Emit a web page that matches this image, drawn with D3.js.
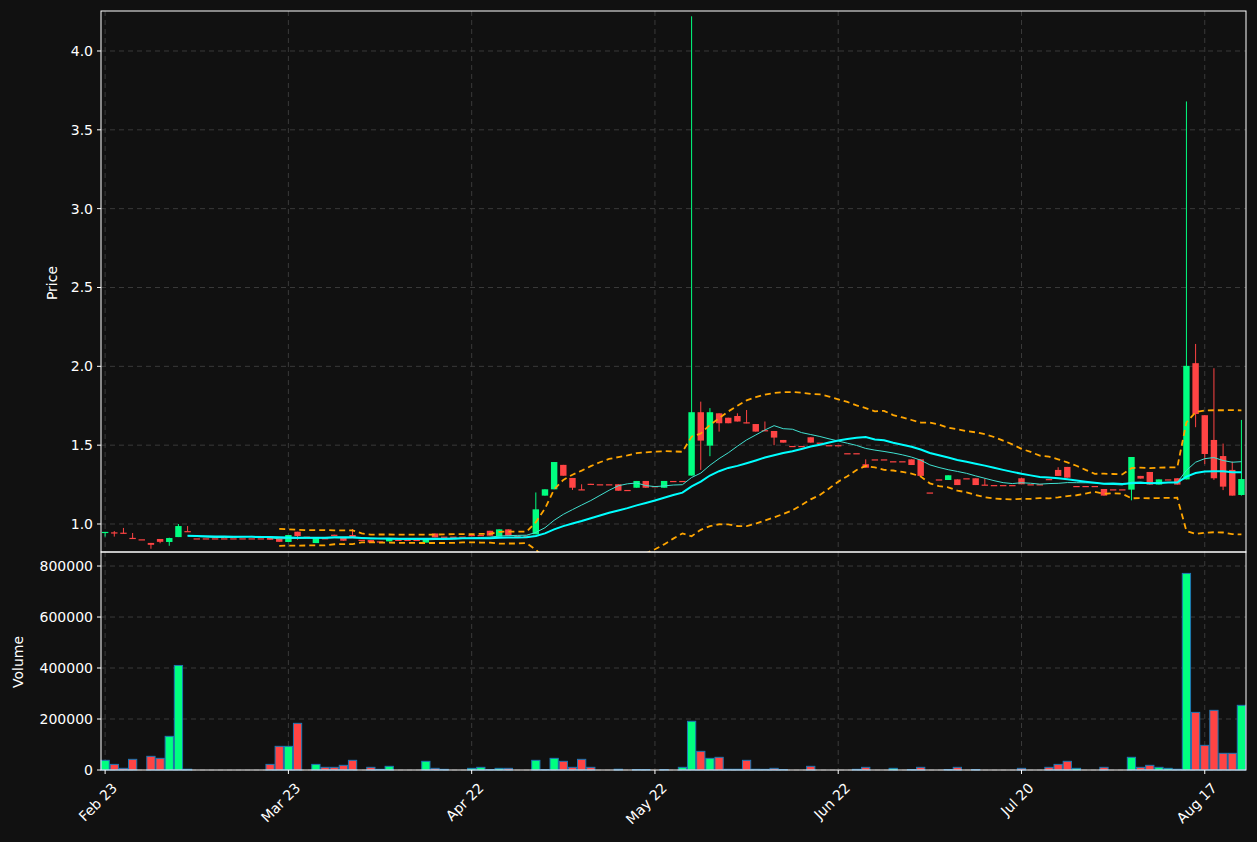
<!DOCTYPE html>
<html><head><meta charset="utf-8">
<script src="https://cdn.jsdelivr.net/npm/d3@7"></script>
<style>body{margin:0;background:#111111;}svg{display:block;font-family:"DejaVu Sans",sans-serif;}</style>
</head><body><svg id="c" width="1257" height="842"></svg>
<script>
// [open, high, low, close]
const ohlc = [
[.945,.95,.92,.95],[.947,.955,.92,.943],[.945,.975,.94,.94],[.912,.943,.905,.908],[.903,.903,.903,.903],
[.88,.88,.843,.868],[.905,.905,.878,.887],[.886,.913,.862,.911],[.917,1.0,.917,.987],[.955,.987,.952,.952],
[.909,.909,.909,.909],[.909,.909,.909,.909],[.909,.909,.909,.909],[.909,.909,.909,.909],[.909,.909,.909,.909],
[.909,.909,.909,.909],[.909,.909,.909,.909],[.909,.909,.909,.909],[.92,.92,.90,.90],[.909,.909,.887,.887],
[.886,.93,.886,.93],[.951,.951,.90,.924],[.92,.92,.92,.92],[.879,.91,.879,.91],[.91,.91,.905,.905],
[.932,.932,.93,.93],[.913,.913,.894,.894],[.93,.968,.915,.915],[.9,.9,.9,.9],[.898,.898,.882,.882],
[.89,.89,.89,.89],[.89,.907,.89,.907],[.9,.9,.9,.9],[.9,.9,.9,.9],[.9,.9,.9,.9],
[.882,.907,.882,.907],[.94,.94,.915,.915],[.92,.92,.92,.92],[.92,.92,.92,.92],[.92,.92,.92,.92],
[.93,.93,.93,.93],[.93,.93,.93,.93],[.957,.957,.926,.926],[.92,.966,.92,.966],[.966,.966,.926,.926],
[.926,.926,.926,.926],[.926,.926,.926,.926],[.935,1.2,.935,1.093],[1.18,1.22,1.18,1.22],[1.22,1.393,1.22,1.393],
[1.375,1.375,1.306,1.306],[1.292,1.292,1.216,1.23],[1.22,1.252,1.216,1.216],[1.255,1.255,1.252,1.252],[1.252,1.252,1.252,1.252],
[1.252,1.252,1.252,1.252],[1.252,1.252,1.211,1.211],[1.216,1.216,1.216,1.216],[1.23,1.273,1.23,1.273],[1.273,1.273,1.23,1.23],
[1.24,1.24,1.24,1.24],[1.23,1.273,1.23,1.273],[1.273,1.273,1.273,1.273],[1.273,1.273,1.273,1.273],[1.307,4.22,1.307,1.709],
[1.709,1.776,1.343,1.529],[1.497,1.735,1.43,1.709],[1.702,1.702,1.586,1.639],[1.674,1.674,1.639,1.639],[1.685,1.702,1.65,1.65],
[1.645,1.723,1.639,1.639],[1.634,1.634,1.586,1.586],[1.595,1.65,1.59,1.59],[1.59,1.59,1.5,1.548],[1.533,1.533,1.516,1.516],
[1.495,1.495,1.495,1.495],[1.495,1.495,1.495,1.495],[1.55,1.55,1.516,1.516],[1.516,1.516,1.516,1.516],[1.5,1.5,1.5,1.5],
[1.5,1.5,1.5,1.5],[1.449,1.449,1.449,1.449],[1.449,1.449,1.449,1.449],[1.379,1.41,1.357,1.357],[1.41,1.41,1.41,1.41],
[1.41,1.41,1.41,1.41],[1.398,1.398,1.398,1.398],[1.398,1.398,1.398,1.398],[1.41,1.41,1.374,1.374],[1.41,1.41,1.305,1.305],
[1.2,1.2,1.2,1.2],[1.283,1.283,1.283,1.283],[1.279,1.309,1.279,1.309],[1.283,1.283,1.247,1.247],[1.29,1.29,1.29,1.29],
[1.29,1.29,1.247,1.247],[1.25,1.29,1.247,1.247],[1.247,1.247,1.247,1.247],[1.247,1.247,1.247,1.247],[1.247,1.247,1.247,1.247],
[1.29,1.294,1.252,1.252],[1.252,1.252,1.252,1.252],[1.252,1.252,1.252,1.252],[1.285,1.285,1.283,1.283],[1.343,1.36,1.305,1.305],
[1.362,1.362,1.294,1.294],[1.241,1.241,1.241,1.241],[1.241,1.241,1.241,1.241],[1.241,1.241,1.241,1.241],[1.222,1.222,1.18,1.18],
[1.22,1.22,1.22,1.22],[1.22,1.22,1.22,1.22],[1.218,1.425,1.15,1.425],[1.305,1.305,1.288,1.288],[1.33,1.33,1.25,1.25],
[1.25,1.283,1.25,1.283],[1.283,1.283,1.283,1.283],[1.29,1.29,1.25,1.25],[1.283,3.68,1.283,2.003],[2.02,2.142,1.614,1.698],
[1.69,1.69,1.38,1.444],[1.533,1.988,1.28,1.29],[1.431,1.51,1.215,1.237],[1.343,1.396,1.18,1.18],[1.184,1.66,1.18,1.285]
];
const volume = [
37900,22000,6500,41800,0,53600,45700,132000,410000,3000,
0,0,0,0,0,0,0,0,22000,92800,
92800,183000,0,22000,10500,10500,18300,37900,0,10500,
2600,14400,0,0,0,34000,6500,2600,0,0,
6500,10500,2000,6500,6500,0,0,37900,2000,45700,
34000,10500,41800,10500,0,0,3000,0,2000,2000,
0,2000,0,10500,191000,73200,45700,49700,3000,3000,
37900,3000,2600,6500,2000,0,0,14400,0,0,
0,0,2600,10500,0,0,6500,0,2000,10500,
0,0,2000,10500,0,2000,0,0,0,0,
6500,0,0,10500,22000,34000,6500,0,0,10500,
0,0,49700,10500,18300,10500,6500,3000,771000,226000,
96700,234000,65400,65400,253600
];
const tickIdx = [0,20,40,60,80,100,120];
const tickLabels = ["Feb 23","Mar 23","Apr 22","May 22","Jun 22","Jul 20","Aug 17"];
const priceTicks = [1.0,1.5,2.0,2.5,3.0,3.5,4.0];
const volTicks = [0,200000,400000,600000,800000];

const UP="#00ff80", DN="#ff4444", GRID="#3a3a3a";
const svg=d3.select("#c");
svg.append("rect").attr("width",1257).attr("height",842).attr("fill","#111111");
const L=101,R=1246,PT=11,PB=552,VT=552,VB=770;
const x=d3.scaleLinear().domain([-0.45,124.5]).range([L,R]);
const y=d3.scaleLinear().domain([0.8224,4.2536]).range([PB,PT]);
const yv=d3.scaleLinear().domain([0,855000]).range([VB,VT]);
const n=ohlc.length, bw=9.17*0.7, vw=9.17*0.9;
const closes=ohlc.map(d=>d[3]);

// grids
const g=svg.append("g");
[[PT,PB],[VT,VB]].forEach(([t,b])=>{
  g.selectAll(null).data(tickIdx).enter().append("line").attr("x1",d=>x(d)).attr("x2",d=>x(d)).attr("y1",t).attr("y2",b)
   .attr("stroke",GRID).attr("stroke-dasharray","5,4");
});
g.selectAll(null).data(priceTicks).enter().append("line").attr("x1",L).attr("x2",R).attr("y1",d=>y(d)).attr("y2",d=>y(d)).attr("stroke",GRID).attr("stroke-dasharray","5,4");
g.selectAll(null).data(volTicks).enter().append("line").attr("x1",L).attr("x2",R).attr("y1",d=>yv(d)).attr("y2",d=>yv(d)).attr("stroke",GRID).attr("stroke-dasharray","5,4");

svg.append("clipPath").attr("id","pc").append("rect").attr("x",L).attr("y",PT).attr("width",R-L).attr("height",PB-PT);
const pg=svg.append("g").attr("clip-path","url(#pc)");

// candles
const c=pg.selectAll(".cd").data(ohlc).enter().append("g");
c.append("line").attr("x1",(d,i)=>x(i)).attr("x2",(d,i)=>x(i)).attr("y1",d=>y(d[1])).attr("y2",d=>y(d[2]))
 .attr("stroke",d=>d[3]>d[0]?UP:DN).attr("stroke-width",1);
c.append("rect").attr("x",(d,i)=>x(i)-bw/2).attr("width",bw)
 .attr("y",d=>y(Math.max(d[0],d[3]))).attr("height",d=>Math.max(1.2,Math.abs(y(d[0])-y(d[3]))))
 .attr("fill",d=>d[3]>d[0]?UP:DN);

// indicators
function sma(w,minp){return closes.map((v,i)=>{const s=closes.slice(Math.max(0,i-w+1),i+1);return s.length<minp?null:d3.mean(s);});}
const ma10=sma(10,10), ma20=sma(20,10);
const bu=[],bl=[];
closes.forEach((v,i)=>{if(i<19){bu.push(null);bl.push(null);return;}const s=closes.slice(i-19,i+1);const m=d3.mean(s);const sd=d3.deviation(s);bu.push(m+2*sd);bl.push(m-2*sd);});
const line=d3.line().defined(d=>d!=null).x((d,i)=>x(i)).y(d=>y(d));
pg.append("path").attr("d",line(bu)).attr("fill","none").attr("stroke","#ffa500").attr("stroke-width",1.8).attr("stroke-dasharray","6,4");
pg.append("path").attr("d",line(bl)).attr("fill","none").attr("stroke","#ffa500").attr("stroke-width",1.8).attr("stroke-dasharray","6,4");
pg.append("path").attr("d",line(ma10)).attr("fill","none").attr("stroke","#40e0d0").attr("stroke-width",1);
pg.append("path").attr("d",line(ma20)).attr("fill","none").attr("stroke","#00ffff").attr("stroke-width",2);

// volume
svg.append("g").selectAll("rect").data(volume).enter().append("rect")
 .attr("x",(d,i)=>x(i)-vw/2).attr("width",vw).attr("y",d=>yv(d)).attr("height",d=>yv(0)-yv(d))
 .attr("fill",(d,i)=>ohlc[i][3]>=ohlc[i][0]?UP:DN).attr("stroke","#1f77b4").attr("stroke-width",1);

// frames
[[PT,PB],[VT,VB]].forEach(([t,b])=>svg.append("rect").attr("x",L).attr("y",t).attr("width",R-L).attr("height",b-t).attr("fill","none").attr("stroke","#ffffff").attr("stroke-width",1));

// axes
const ax=svg.append("g").attr("fill","#ffffff").attr("font-size",14);
priceTicks.forEach(t=>{ax.append("line").attr("x1",L-4).attr("x2",L).attr("y1",y(t)).attr("y2",y(t)).attr("stroke","#fff");
 ax.append("text").attr("x",L-8).attr("y",y(t)).attr("dy","0.35em").attr("text-anchor","end").text(t.toFixed(1));});
volTicks.forEach(t=>{ax.append("line").attr("x1",L-4).attr("x2",L).attr("y1",yv(t)).attr("y2",yv(t)).attr("stroke","#fff");
 ax.append("text").attr("x",L-8).attr("y",yv(t)).attr("dy","0.35em").attr("text-anchor","end").text(t);});
tickIdx.forEach((t,k)=>{ax.append("line").attr("x1",x(t)).attr("x2",x(t)).attr("y1",VB).attr("y2",VB+4).attr("stroke","#fff");
 ax.append("text").attr("transform",`translate(${x(t)+6},${VB+12}) rotate(-45)`).attr("text-anchor","end").attr("dy","0.7em").text(tickLabels[k]);});
ax.append("text").attr("transform","translate(57,283) rotate(-90)").attr("text-anchor","middle").text("Price");
ax.append("text").attr("transform","translate(23,662) rotate(-90)").attr("text-anchor","middle").text("Volume");
</script></body></html>
